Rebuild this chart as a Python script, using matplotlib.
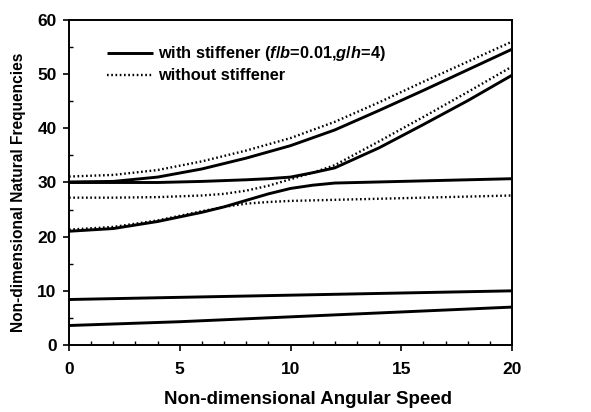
import matplotlib
matplotlib.use("Agg")
import matplotlib.pyplot as plt
import numpy as np
from matplotlib.ticker import MultipleLocator

plt.rcParams['font.family'] = ['Liberation Sans', 'DejaVu Sans']
plt.rcParams['font.weight'] = 'bold'
plt.rcParams['mathtext.fontset'] = 'custom'
plt.rcParams['mathtext.rm'] = 'Liberation Sans:bold'
plt.rcParams['mathtext.it'] = 'Liberation Sans:italic:bold'
plt.rcParams['mathtext.bf'] = 'Liberation Sans:bold'

# ---- data ----
# with stiffener
x_low = [0, 5, 10, 15, 20]
with_mode1 = [3.6, 4.3, 5.2, 6.1, 7.0]
with_mode2 = [8.4, 8.8, 9.2, 9.6, 10.0]

x_d = [0, 2, 4, 6, 7, 8, 9, 10, 11, 12, 14, 16, 18, 20]
with_mode3 = [21.0, 21.5, 22.8, 24.5, 25.5, 26.7, 27.9, 28.9, 29.5, 29.9, 30.1, 30.3, 30.5, 30.7]

x_e = [0, 2, 4, 6, 8, 9, 10, 11, 12, 14, 16, 18, 20]
with_mode4 = [30.0, 30.0, 30.0, 30.2, 30.5, 30.7, 31.0, 31.8, 32.7, 36.4, 40.7, 45.1, 49.8]

x_f = [0, 2, 4, 6, 8, 10, 12, 14, 16, 18, 20]
with_mode5 = [30.1, 30.2, 31.0, 32.5, 34.5, 36.8, 39.7, 43.3, 47.0, 50.8, 54.6]

# without stiffener
x_a = [0, 2, 4, 6, 7, 8, 9, 10, 12, 14, 16, 18, 20]
without_mode3 = [21.3, 21.8, 23.0, 24.7, 25.5, 26.1, 26.4, 26.6, 26.8, 27.0, 27.2, 27.4, 27.6]

x_b = [0, 2, 4, 6, 7, 8, 9, 10, 11, 12, 14, 16, 18, 20]
without_mode4 = [27.2, 27.2, 27.3, 27.6, 27.9, 28.5, 29.4, 30.6, 31.8, 33.2, 37.6, 42.1, 46.7, 51.4]

x_c = [0, 2, 4, 6, 8, 10, 12, 14, 16, 18, 20]
without_mode5 = [31.1, 31.4, 32.3, 33.9, 35.9, 38.2, 41.2, 44.8, 48.6, 52.3, 56.0]

label_with = r'with stiffener ($\it{f/b}$=0.01,$\it{g/h}$=4)'
label_without = 'without stiffener'

fig = plt.figure(figsize=(5.91, 4.12), dpi=100)
ax = fig.add_axes([0.1168, 0.1626, 0.7495, 0.7889])

solid_kw = dict(color='black', lw=2.1, solid_capstyle='butt')
dot_kw = dict(color='black', lw=1.7, linestyle=(0, (0.7, 1.1)))

ax.plot(x_c, without_mode5, **dot_kw)
ax.plot(x_b, without_mode4, **dot_kw)
ax.plot(x_a, without_mode3, **dot_kw)

ax.plot(x_low, with_mode1, **solid_kw)
ax.plot(x_low, with_mode2, **solid_kw)
ax.plot(x_d, with_mode3, **solid_kw)
ax.plot(x_e, with_mode4, **solid_kw)
ax.plot(x_f, with_mode5, label=label_with, **solid_kw)
ax.plot([], [], label=label_without, **dot_kw)

ax.set_xlim(0, 20)
ax.set_ylim(0, 60)
ax.xaxis.set_major_locator(MultipleLocator(5))
ax.xaxis.set_minor_locator(MultipleLocator(1))
ax.yaxis.set_major_locator(MultipleLocator(10))
ax.yaxis.set_minor_locator(MultipleLocator(5))
ax.tick_params(which='major', direction='out', length=4, width=1.2, labelsize=12.5)
ax.tick_params(axis='x', which='major', pad=8)
ax.tick_params(axis='y', which='major', pad=5)
ax.tick_params(which='minor', direction='in', length=3, width=1.0)
for s in ax.spines.values():
    s.set_linewidth(1.4)

ax.set_xlabel('Non-dimensional Angular Speed', fontsize=13.5, fontweight='bold')
ax.set_ylabel('Non-dimensional Natural Frequencies', fontsize=11.2, fontweight='bold')
ax.xaxis.set_label_coords(0.54, -0.14)
ax.yaxis.set_label_coords(-0.098, 0.47)

leg = ax.legend(loc='upper left', bbox_to_anchor=(0.086, 0.925), frameon=False,
                prop={'size': 11.8, 'weight': 'bold'}, handlelength=2.8,
                handletextpad=0.3, labelspacing=0.3, borderaxespad=0, borderpad=0)

fig.savefig('out.png', dpi=100)
